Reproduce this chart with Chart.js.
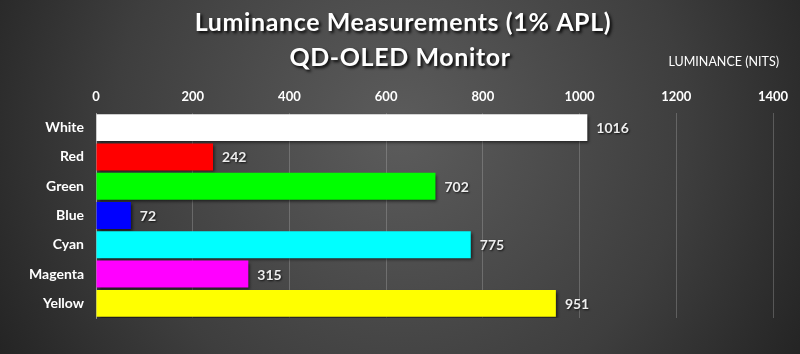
<!DOCTYPE html>
<html>
<head>
<meta charset="utf-8">
<script src="https://cdn.jsdelivr.net/npm/chart.js@4"></script>
<style>
  html, body { margin: 0; padding: 0; background: #333; }
  #wrap { width: 800px; height: 354px; }
</style>
</head>
<body>
<div id="wrap"><canvas id="chart" width="800" height="354"></canvas></div>
<script>
// datos del gráfico
const categories = ['White', 'Red', 'Green', 'Blue', 'Cyan', 'Magenta', 'Yellow'];
const luminance = [1016, 242, 702, 72, 775, 315, 951];
const barColors = ['#ffffff', '#ff0000', '#00ff00', '#0000ff', '#00ffff', '#ff00ff', '#ffff00'];
const titleLines = ['Luminance Measurements (1% APL)', 'QD-OLED Monitor'];
const axisTitle = 'LUMINANCE (NITS)';

const FONT = 'Lato, "Open Sans", sans-serif';

// fondo con degradado radial
const backgroundPlugin = {
    id: 'bg',
    beforeDraw(chart) {
        const ctx = chart.ctx;
        const g = ctx.createRadialGradient(400, 130, 0, 400, 130, 520);
        g.addColorStop(0, '#5c5c5c');
        g.addColorStop(0.55, '#3e3e3e');
        g.addColorStop(1, '#1b1b1b');
        ctx.save();
        ctx.fillStyle = g;
        ctx.fillRect(0, 0, chart.width, chart.height);
        ctx.restore();
    }
};

// sombra de las barras
const shadowPlugin = {
    id: 'barShadow',
    beforeDatasetsDraw(chart) {
        const ctx = chart.ctx;
        ctx.save();
        ctx.shadowColor = 'rgba(0,0,0,0.6)';
        ctx.shadowOffsetX = 2;
        ctx.shadowOffsetY = 2;
        ctx.shadowBlur = 3;
    },
    afterDatasetsDraw(chart) {
        chart.ctx.restore();
    }
};

// título, etiquetas de valores y título del eje
const labelsPlugin = {
    id: 'valueLabels',
    afterDraw(chart) {
        const ctx = chart.ctx;
        const meta = chart.getDatasetMeta(0);
        ctx.save();
        ctx.shadowColor = 'rgba(0,0,0,0.75)';
        ctx.shadowOffsetX = 1;
        ctx.shadowOffsetY = 1;
        ctx.shadowBlur = 2;
        ctx.fillStyle = '#eeeeee';
        ctx.font = 'bold 14px ' + FONT;
        ctx.textAlign = 'left';
        ctx.textBaseline = 'middle';
        meta.data.forEach((bar, i) => {
            ctx.fillText(String(luminance[i]), bar.x + 9, bar.y + 1);
        });

        // título principal con sombra
        ctx.shadowColor = 'rgba(0,0,0,0.9)';
        ctx.shadowOffsetX = 2;
        ctx.shadowOffsetY = 2;
        ctx.shadowBlur = 3;
        ctx.fillStyle = '#ffffff';
        ctx.textAlign = 'center';
        ctx.font = 'bold 25px ' + FONT;
        ctx.letterSpacing = '0.6px';
        ctx.fillText(titleLines[0], 403, 23);
        ctx.fillText(titleLines[1], 400, 58);
        ctx.letterSpacing = '0px';

        // título del eje x
        const xScale = chart.scales.x;
        ctx.shadowColor = 'transparent';
        ctx.font = '12.5px ' + FONT;
        ctx.fillStyle = '#ffffff';
        ctx.textAlign = 'right';
        ctx.fillText(axisTitle, xScale.right + 6, 62);
        ctx.restore();
    }
};

new Chart(document.getElementById('chart'), {
    type: 'bar',
    data: {
        labels: categories,
        datasets: [{
            data: luminance,
            backgroundColor: barColors,
            borderWidth: 0,
            categoryPercentage: 0.92,
            barPercentage: 1.0
        }]
    },
    options: {
        indexAxis: 'y',
        responsive: false,
        animation: false,
        layout: { padding: { left: 0, right: 27, top: 76, bottom: 36 } },
        plugins: {
            legend: { display: false },
            tooltip: { enabled: false },
            title: { display: false }
        },
        scales: {
            x: {
                position: 'top',
                min: 0,
                max: 1400,
                ticks: {
                    stepSize: 200,
                    color: '#ffffff',
                    font: { family: FONT, size: 13, weight: 'bold' },
                    padding: 8,
                    callback: (v) => String(v)
                },
                grid: {
                    color: 'rgba(200,200,200,0.28)',
                    lineWidth: 1,
                    drawTicks: false
                },
                border: { display: false },
                afterFit(scale) { scale.height = 113 - 76; }
            },
            y: {
                ticks: {
                    color: '#ffffff',
                    font: { family: FONT, size: 14, weight: 'bold' },
                    padding: 12
                },
                grid: { display: false, drawTicks: false },
                border: { display: true, color: 'rgba(200,200,200,0.55)', width: 1 },
                afterFit(scale) { scale.width = 96; }
            }
        }
    },
    plugins: [backgroundPlugin, shadowPlugin, labelsPlugin]
});
</script>
</body>
</html>
